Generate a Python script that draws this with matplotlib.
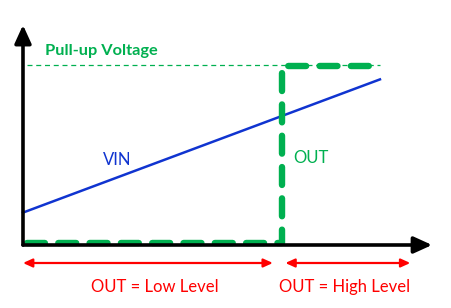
import matplotlib.pyplot as plt
import numpy as np

plt.rcParams['font.family'] = ['Lato', 'DejaVu Sans']

# time axis (arbitrary units) and voltage (fraction of pull-up)
vin_t = [0, 100]
vin_v = [0.18, 0.92]
out_t = [1, 72.5, 72.5, 98]
out_v = [0.012, 0.012, 0.995, 0.995]
pullup_v = 1.0
pullup_t = [1, 100]
low_span = [0, 70]
high_span = [73.5, 108.5]

green = '#00b050'
blue = '#1034d0'
red = '#ff0000'

fig = plt.figure(figsize=(4.51, 3.08), dpi=100)
ax = fig.add_axes([0, 0, 1, 1])
ax.set_xlim(-6.44, 119.9)
ax.set_ylim(-0.35, 1.361)
ax.axis('off')

# axes with arrows
ax.annotate('', xy=(114.6, 0), xytext=(0, 0),
            arrowprops=dict(arrowstyle='-|>,head_length=1.1,head_width=0.5',
                            lw=2.6, color='black', shrinkA=0, shrinkB=0))
ax.annotate('', xy=(0, 1.222), xytext=(0, 0),
            arrowprops=dict(arrowstyle='-|>,head_length=1.1,head_width=0.5',
                            lw=2.6, color='black', shrinkA=0, shrinkB=0))

# pull-up reference
ax.plot(pullup_t, [pullup_v, pullup_v], color=green, lw=0.9, dashes=(4, 3))
ax.text(6.2, 1.075, 'Pull-up Voltage', color=green, fontsize=11.8,
        fontweight='bold', va='center', ha='left')

# VIN
ax.plot(vin_t, vin_v, color=blue, lw=1.8)
ax.text(26.3, 0.47, 'VIN', color=blue, fontsize=12, va='center', ha='center')

# OUT
ax.plot(out_t, out_v, color=green, lw=4.6, solid_capstyle='round',
        dash_capstyle='round', dashes=(2.8, 2.1))
ax.text(75.8, 0.485, 'OUT', color=green, fontsize=12, va='center', ha='left')

# level spans
for span in (low_span, high_span):
    ax.annotate('', xy=(span[1], -0.1), xytext=(span[0], -0.1),
                arrowprops=dict(arrowstyle='<|-|>,head_length=0.55,head_width=0.25',
                                lw=1.6, color=red, shrinkA=0, shrinkB=0))
ax.text(37.0, -0.232, 'OUT = Low Level', color=red, fontsize=12,
        va='center', ha='center')
ax.text(90.2, -0.232, 'OUT = High Level', color=red, fontsize=12,
        va='center', ha='center')

fig.savefig('out.png', dpi=100, facecolor='white')
